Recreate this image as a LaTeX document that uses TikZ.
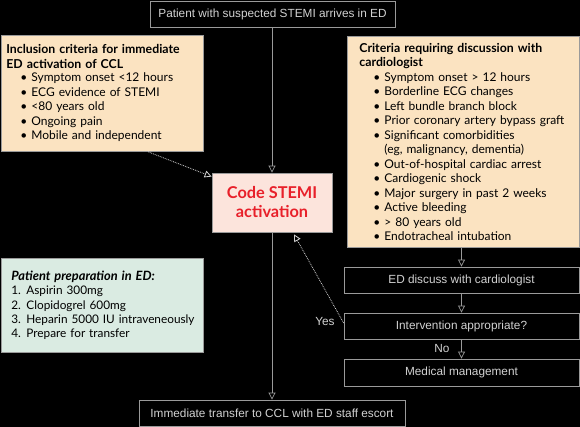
\documentclass[tikz,border=0pt]{standalone}
\usepackage{fontspec}
\setmainfont{Lato}
\newfontfamily\flowfont{Liberation Sans}
\usetikzlibrary{arrows.meta}
\definecolor{beige}{HTML}{FBE3C1}
\definecolor{pinkfill}{HTML}{FCE4DC}
\definecolor{greenfill}{HTML}{DAEBE2}
\definecolor{edge}{HTML}{9A9A9A}
\definecolor{flowtext}{HTML}{D2D2D2}
\definecolor{codered}{HTML}{E8202A}
\newcommand{\bul}[1]{\hspace*{14pt}\makebox[11pt][l]{\textbullet}#1}
\newcommand{\cont}[1]{\hspace*{25pt}#1}
\newcommand{\num}[2]{\mbox{\makebox[15pt][l]{#1}#2}}
\newcommand{\boxtitle}[1]{{\bfseries\fontsize{12.3}{14.5}\selectfont #1}}
\begin{document}
\begin{tikzpicture}[x=1pt,y=-1pt,
  flowbox/.style={draw=edge, line width=0.8pt, fill=black, text=flowtext,
    font=\flowfont\fontsize{11.8}{13}\selectfont, minimum height=26pt, inner sep=0pt},
  infobox/.style={draw=edge, line width=0.8pt, anchor=north west, align=left,
    font=\fontsize{12}{14.5}\selectfont, inner xsep=5pt, inner ysep=5pt},
  flowarrow/.style={draw=edge, line width=0.7pt, -{Triangle[open, length=7pt, width=7pt]}},
  dotarrow/.style={draw=flowtext, line width=0.8pt, densely dotted, -{Triangle[open, length=7pt, width=7pt]}},
  flowlabel/.style={text=flowtext, font=\flowfont\fontsize{11.8}{13}\selectfont, inner sep=0pt}
]
\fill[black] (0,0) rectangle (580,427);
\useasboundingbox (0,0) rectangle (580,427);

\node[flowbox, minimum width=245pt] (top) at (272.5,14) {Patient with suspected STEMI arrives in ED};

\node[draw=edge, line width=0.8pt, fill=pinkfill, text=codered, align=center,
  minimum width=120pt, minimum height=59pt,
  font=\bfseries\fontsize{16.3}{19}\selectfont] (code) at (272,202.5) {Code STEMI\\activation};

\node[flowbox, minimum width=266pt] (bottom) at (272,413) {Immediate transfer to CCL with ED staff escort};

\node[infobox, fill=beige, text width=192pt, minimum height=116pt, inner ysep=4pt] (incl) at (1,35) {%
\boxtitle{Inclusion criteria for immediate}\\
\boxtitle{ED activation of CCL}\\[-1pt]
\bul{Symptom onset <12 hours}\\
\bul{ECG evidence of STEMI}\\
\bul{<80 years old}\\
\bul{Ongoing pain}\\
\bul{Mobile and independent}};

\node[infobox, fill=beige, text width=208pt, minimum height=211pt, inner xsep=12pt] (crit) at (347,36) {%
\boxtitle{Criteria requiring discussion with}\\
\boxtitle{cardiologist}\\
\bul{Symptom onset > 12 hours}\\
\bul{Borderline ECG changes}\\
\bul{Left bundle branch block}\\
\bul{Prior coronary artery bypass graft}\\
\bul{Significant comorbidities}\\
\cont{(eg, malignancy, dementia)}\\
\bul{Out-of-hospital cardiac arrest}\\
\bul{Cardiogenic shock}\\
\bul{Major surgery in past 2 weeks}\\
\bul{Active bleeding}\\
\bul{> 80 years old}\\
\bul{Endotracheal intubation}};

\node[infobox, fill=greenfill, text width=182pt, minimum height=94pt, inner ysep=9pt, inner xsep=10pt,
  font=\fontsize{11.8}{14.4}\selectfont] (prep) at (1,258) {%
{\bfseries\itshape\fontsize{12.8}{14.5}\selectfont Patient preparation in ED:}\\
\num{1.}{Aspirin 300mg}\\
\num{2.}{Clopidogrel 600mg}\\
\num{3.}{Heparin 5000 IU intraveneously}\\
\num{4.}{Prepare for transfer}};

\node[flowbox, minimum width=235pt] (disc) at (461.5,280) {ED discuss with cardiologist};
\node[flowbox, minimum width=235pt] (inter) at (461.5,326) {Intervention appropriate?};
\node[flowbox, minimum width=235pt, minimum height=27pt] (med) at (461.5,372.5) {Medical management};

\node[flowlabel] (yes) at (325,321) {Yes};
\node[flowlabel] (no) at (442,348) {No};

\draw[flowarrow] (top.south -| code.north) -- (code.north);
\draw[flowarrow] (code.south) -- (bottom.north);
\draw[flowarrow] (crit.south -| disc.north) -- (disc.north);
\draw[flowarrow] (disc.south) -- (inter.north);
\draw[flowarrow] (inter.south) -- (med.north);
\draw[dotarrow] (148,0 |- incl.south) -- ([yshift=-4pt]code.north west);
\draw[dotarrow] ([yshift=3pt]inter.west) -- ([xshift=22pt,yshift=-2pt]code.south);
\end{tikzpicture}
\end{document}
